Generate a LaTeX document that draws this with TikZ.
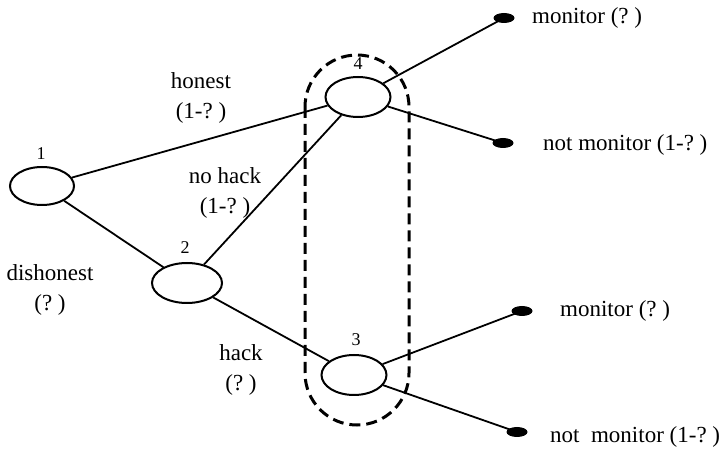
\documentclass[tikz,border=0pt]{standalone}
\usepackage{fontspec}
\setmainfont{Liberation Serif}
\usetikzlibrary{shapes.geometric}
\begin{document}
\begin{tikzpicture}[x=1pt,y=-1pt,
  dec/.style={draw,line width=2pt,ellipse,inner sep=0pt},
  leaf/.style={fill,ellipse,inner sep=0pt,minimum width=21pt,minimum height=10pt},
  edge/.style={line width=1.8pt},
  lbl/.style={font=\fontsize{23}{30}\selectfont,align=center,inner sep=0pt},
  num/.style={font=\fontsize{18}{20}\selectfont},
  info/.style={line width=3pt,dash pattern=on 11pt off 6pt}]
\useasboundingbox (0,0) rectangle (724,449);
% decision nodes
\node[dec,minimum width=64pt,minimum height=38pt] (n1) at (42,186) {};
\node[dec,minimum width=70pt,minimum height=40pt] (n2) at (187,283) {};
\node[dec,minimum width=65pt,minimum height=40pt] (n4) at (358,97) {};
\node[dec,minimum width=65pt,minimum height=40pt] (n3) at (354,375) {};
\node[num] (l1) at (41,154) {1};
\node[num] (l2) at (185,248) {2};
\node[num] (l4) at (358,64) {4};
\node[num] (l3) at (356,340) {3};
% information set
\draw[info,rounded corners=52pt] (305,55) rectangle (409,425);
% terminal points
\node[leaf] (t1) at (504,18) {};
\node[leaf] (t2) at (503,143) {};
\node[leaf] (t3) at (522,311) {};
\node[leaf] (t4) at (517,432) {};
% branches
\draw[edge] (n1) -- (n4);
\draw[edge] (n1) -- (n2);
\draw[edge] (n2) -- (n4);
\draw[edge] (n2) -- (n3);
\draw[edge] (n4) -- (t1.center);
\draw[edge] (n4) -- (t2.center);
\draw[edge] (n3) -- (t3.center);
\draw[edge] (n3) -- (t4.center);
% branch labels
\node[lbl] (h) at (201,98) {honest\\(1-?~)};
\node[lbl] (nh) at (225,193) {no hack\\(1-?~)};
\node[lbl] (dh) at (50,290) {dishonest\\(?~)};
\node[lbl] (hk) at (241,370) {hack\\(?~)};
% payoffs
\node[lbl,anchor=west] (p1) at (532,18) {monitor (?~)};
\node[lbl,anchor=west] (p2) at (543,145) {not monitor (1-?~)};
\node[lbl,anchor=west] (p3) at (560,311) {monitor (?~)};
\node[lbl,anchor=west] (p4) at (550,437) {not\ \ monitor (1-?~)};
\end{tikzpicture}
\end{document}
